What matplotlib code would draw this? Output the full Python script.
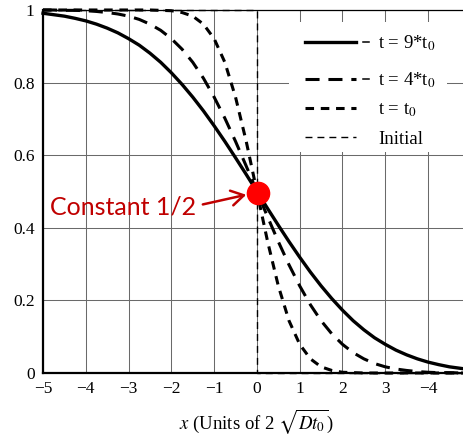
import matplotlib
matplotlib.use("Agg")
import matplotlib.pyplot as plt
from matplotlib.patches import Rectangle

plt.rcParams['font.family'] = ['Liberation Serif', 'DejaVu Serif']
plt.rcParams['mathtext.fontset'] = 'stix'

# ---- data ----
x_vals = [-5.0, -4.75, -4.5, -4.25, -4.0, -3.75, -3.5, -3.25, -3.0, -2.75,
          -2.5, -2.25, -2.0, -1.75, -1.5, -1.25, -1.0, -0.75, -0.5, -0.25,
          0.0, 0.25, 0.5, 0.75, 1.0, 1.25, 1.5, 1.75, 2.0, 2.25,
          2.5, 2.75, 3.0, 3.25, 3.5, 3.75, 4.0, 4.25, 4.5, 4.75, 5.0]

c_9t0 = [0.991, 0.987, 0.983, 0.977, 0.970, 0.961, 0.950, 0.937, 0.921, 0.903,
         0.881, 0.856, 0.827, 0.795, 0.760, 0.722, 0.681, 0.638, 0.593, 0.547,
         0.500, 0.453, 0.407, 0.362, 0.319, 0.278, 0.240, 0.205, 0.173, 0.144,
         0.119, 0.097, 0.079, 0.063, 0.050, 0.039, 0.030, 0.023, 0.017, 0.013, 0.009]

c_4t0 = [1.000, 1.000, 0.999, 0.999, 0.998, 0.996, 0.993, 0.989, 0.983, 0.974,
         0.961, 0.944, 0.921, 0.892, 0.856, 0.812, 0.760, 0.702, 0.638, 0.570,
         0.500, 0.430, 0.362, 0.298, 0.240, 0.188, 0.144, 0.108, 0.079, 0.056,
         0.039, 0.026, 0.017, 0.011, 0.007, 0.004, 0.002, 0.001, 0.001, 0.000, 0.000]

c_t0 = [1.000, 1.000, 1.000, 1.000, 1.000, 1.000, 1.000, 1.000, 1.000, 1.000,
        1.000, 0.999, 0.998, 0.993, 0.983, 0.961, 0.921, 0.856, 0.760, 0.638,
        0.500, 0.362, 0.240, 0.144, 0.079, 0.039, 0.017, 0.007, 0.002, 0.001,
        0.000, 0.000, 0.000, 0.000, 0.000, 0.000, 0.000, 0.000, 0.000, 0.000, 0.000]

init_x = [-5.0, 0.0, 0.0, 5.0]
init_c = [1.0, 1.0, 0.0, 0.0]

const_x, const_c = 0.03, 0.496

x_ticks = [-5, -4, -3, -2, -1, 0, 1, 2, 3, 4, 5]
x_ticklabels = ['\u22125', '\u22124', '\u22123', '\u22122', '\u22121', '0', '1', '2', '3', '\u22124', '5']
y_ticks = [0, 0.2, 0.4, 0.6, 0.8, 1.0]
y_ticklabels = ['0', '0.2', '0.4', '0.6', '0.8', '1']

legend_labels = ['t = 9*t$_0$', 't = 4*t$_0$', 't = t$_0$', 'Initial']

# ---- figure ----
fig = plt.figure(figsize=(4.64, 4.38), dpi=100)
ax = fig.add_axes([0.0927, 0.1484, 0.922, 0.8288])
ax.set_xlim(-5, 5)
ax.set_ylim(0, 1)

ax.set_xticks(x_ticks)
ax.set_xticklabels(x_ticklabels)
ax.set_yticks(y_ticks)
ax.set_yticklabels(y_ticklabels)
ax.tick_params(length=0, labelsize=12.5, pad=6)
ax.grid(True, color='#6a6a6a', linewidth=0.75)
ax.set_axisbelow(True)

for s in ['left', 'bottom']:
    ax.spines[s].set_linewidth(1.6)
ax.spines['top'].set_linewidth(0.9)
ax.spines['right'].set_visible(False)

st_9 = dict(color='black', linewidth=2.4, linestyle='-')
st_4 = dict(color='black', linewidth=2.2, dashes=(4.6, 2.9))
st_1 = dict(color='black', linewidth=2.2, dashes=(2.8, 2.2))
st_i = dict(color='black', linewidth=1.0, dashes=(5, 3.6))

ax.plot(init_x, init_c, zorder=3, clip_on=False, **st_i)
ax.plot(x_vals, c_t0, zorder=4, clip_on=False, **st_1)
ax.plot(x_vals, c_4t0, zorder=4, clip_on=False, **st_4)
ax.plot(x_vals, c_9t0, zorder=5, clip_on=False, **st_9)

ax.plot([const_x], [const_c], 'o', color='#FF0000', markersize=16, zorder=6)
ax.annotate('Constant 1/2', xy=(const_x - 0.28, const_c - 0.005),
            xytext=(-4.84, 0.457), ha='left', va='center',
            fontsize=18, color='#C00000', family=['Lato', 'DejaVu Sans'],
            arrowprops=dict(arrowstyle='->,head_length=0.5,head_width=0.3',
                            color='#C00000', lw=1.8, relpos=(1, 0.55),
                            shrinkA=3, shrinkB=0),
            zorder=7)

ax.set_xlabel(r'$x$ (Units of 2 $\sqrt{Dt_0}$)', fontsize=13.5, labelpad=7)

# ---- legend (drawn in axes fraction) ----
ax.add_patch(Rectangle((0.575, 0.609), 0.369, 0.358, transform=ax.transAxes,
                       facecolor='white', edgecolor='none', zorder=1))
rows = [0.912, 0.810, 0.730, 0.650]
styles = [st_9, st_4, st_1, st_i]
for yy, st, lab, k in zip(rows, styles, legend_labels, range(4)):
    ax.plot([0.6124, 0.7317], [yy, yy], transform=ax.transAxes, zorder=5,
            clip_on=False, **st)
    if k < 2:
        ax.plot([0.748, 0.762], [yy, yy], transform=ax.transAxes, color='black',
                linewidth=1.1, zorder=5)
    ax.text(0.783, yy - 0.018, lab, transform=ax.transAxes, fontsize=13.5,
            ha='left', va='baseline', zorder=6)

fig.savefig('out.png', dpi=100)
